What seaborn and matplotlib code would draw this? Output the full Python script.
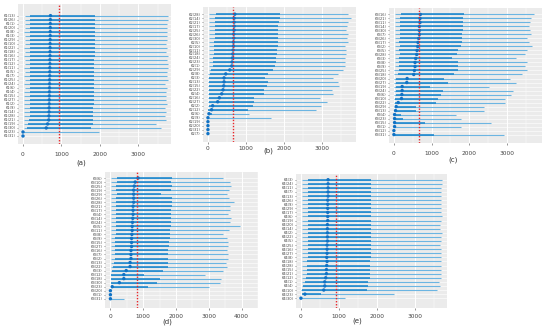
import numpy as np
import pandas as pd
import seaborn as sns
import matplotlib
matplotlib.use("Agg")
import matplotlib.pyplot as plt

# ---------------------------
# data: per panel, one row per label (top to bottom)
# min / lower / median / upper / max
# ---------------------------
a_labels = ["K1(13)", "K1(26)", "K1(1)", "K1(20)", "K1(8)", "K1(3)", "K1(29)", "K1(10)",
            "K1(22)", "K1(18)", "K1(16)", "K1(17)", "K1(12)", "K1(11)", "K1(5)", "K1(7)",
            "K1(25)", "K1(24)", "K1(6)", "K1(4)", "K1(15)", "K1(27)", "K1(2)", "K1(9)",
            "K1(14)", "K1(28)", "K1(21)", "K1(19)", "K1(30)", "K1(23)", "K1(31)"]
a_min = [45, 40, 42, 40, 38, 40, 41, 40, 39, 40, 38, 40, 40, 37, 40, 38,
         40, 36, 40, 35, 38, 34, 36, 33, 32, 30, 28, 22, 17, 0, 0]
a_q1 = [195, 190, 192, 190, 188, 190, 190, 188, 190, 186, 190, 188, 186, 190, 185, 188,
        185, 183, 185, 182, 184, 180, 182, 178, 176, 175, 157, 130, 105, 0, 0]
a_med = [715, 712, 710, 710, 708, 708, 706, 705, 704, 703, 702, 700, 700, 698, 697, 695,
         693, 692, 690, 688, 686, 684, 682, 680, 678, 675, 670, 640, 605, 0, 0]
a_q3 = [1880, 1875, 1872, 1870, 1870, 1868, 1865, 1866, 1862, 1860, 1860, 1858, 1855, 1856,
        1852, 1850, 1848, 1846, 1845, 1842, 1840, 1838, 1835, 1832, 1830, 1828, 1826, 1826,
        1765, 0, 0]
a_max = [3783, 3783, 3757, 3739, 3757, 3739, 3739, 3722, 3739, 3713, 3783, 3739, 3783, 3765,
         3739, 3739, 3783, 3696, 3739, 3713, 3722, 3722, 3739, 3696, 3713, 3696, 3713, 3450,
         3590, 1980, 0]

b_labels = ["K2(28)", "K2(14)", "K2(21)", "K2(17)", "K2(25)", "K2(26)", "K2(30)", "K2(5)",
            "K2(10)", "K2(11)", "K2(18)", "K2(24)", "K2(23)", "K2(1)", "K2(29)", "K2(8)",
            "K2(3)", "K2(13)", "K2(15)", "K2(22)", "K2(4)", "K2(16)", "K2(27)", "K2(2)",
            "K2(12)", "K2(6)", "K2(9)", "K2(19)", "K2(20)", "K2(31)", "K2(7)"]
b_min = [30, 28, 28, 27, 27, 27, 26, 25, 25, 24, 23, 22, 20, 18, 15, 12,
         10, 10, 8, 8, 6, 5, 5, 4, 2, 0, 0, 0, 0, 0, 0]
b_q1 = [204, 177, 177, 177, 177, 177, 177, 159, 159, 159, 150, 142, 135, 124, 71, 53,
        27, 27, 27, 27, 27, 27, 27, 27, 9, 0, 0, 0, 0, 0, 0]
b_med = [708, 690, 690, 690, 690, 681, 681, 673, 673, 664, 655, 646, 637, 628, 575, 469,
         425, 425, 416, 398, 363, 301, 257, 124, 97, 27, 0, 0, 0, 0, 0]
b_q3 = [1885, 1903, 1867, 1858, 1841, 1858, 1858, 1841, 1841, 1830, 1814, 1796, 1780, 1770,
        1708, 1575, 1504, 1575, 1549, 1469, 1487, 1204, 1221, 1177, 1044, 115, 0, 0, 0, 0, 0]
b_max = [3699, 3761, 3681, 3655, 3646, 3699, 3655, 3699, 3611, 3640, 3628, 3611, 3620, 3611,
         3566, 3434, 3283, 3416, 3451, 3257, 3301, 2947, 3124, 2991, 2858, 1071, 1664, 0, 0, 0, 0]

c_labels = ["K3(16)", "K3(21)", "K3(11)", "K3(14)", "K3(30)", "K3(7)", "K3(26)", "K3(17)",
            "K3(2)", "K3(5)", "K3(28)", "K3(3)", "K3(8)", "K3(9)", "K3(25)", "K3(18)",
            "K3(20)", "K3(27)", "K3(19)", "K3(24)", "K3(6)", "K3(10)", "K3(22)", "K3(29)",
            "K3(13)", "K3(4)", "K3(23)", "K3(15)", "K3(1)", "K3(12)", "K3(31)"]
c_min = [30, 28, 28, 26, 26, 25, 25, 24, 22, 20, 20, 18, 18, 16, 15, 14,
         12, 10, 10, 8, 8, 6, 5, 4, 3, 2, 2, 2, 1, 0, 0]
c_q1 = [193, 175, 175, 175, 160, 149, 149, 132, 149, 132, 149, 132, 132, 132, 132, 105,
        61, 44, 44, 44, 44, 35, 35, 18, 18, 9, 9, 9, 9, 0, 0]
c_med = [702, 693, 693, 675, 675, 675, 658, 640, 632, 614, 605, 579, 561, 561, 544, 526,
         351, 342, 219, 219, 211, 202, 114, 61, 44, 18, 18, 18, 18, 0, 0]
c_q3 = [1860, 1842, 1833, 1833, 1825, 1816, 1798, 1816, 1772, 1711, 1684, 1553, 1711, 1711,
        1711, 1596, 1333, 1447, 956, 1307, 1246, 1158, 1114, 588, 588, 193, 237, 833, 61, 0, 1053]
c_max = [3728, 3640, 3614, 3588, 3610, 3632, 3544, 3596, 3658, 3526, 3482, 3246, 3526, 3482,
         3526, 3395, 3070, 3246, 2518, 3149, 3114, 2939, 2956, 2404, 2404, 1658, 1789, 2588,
         1789, 0, 2912]

d_labels = ["K3(6)", "K3(10)", "K3(25)", "K3(19)", "K3(29)", "K3(26)", "K3(28)", "K3(21)",
            "K3(17)", "K3(4)", "K3(14)", "K3(24)", "K3(5)", "K3(11)", "K3(8)", "K3(9)",
            "K3(15)", "K3(27)", "K3(16)", "K3(7)", "K3(2)", "K3(13)", "K3(22)", "K3(3)",
            "K3(12)", "K3(18)", "K3(30)", "K3(23)", "K3(20)", "K3(1)", "K3(31)"]
d_min = [30, 30, 28, 28, 27, 27, 26, 26, 25, 25, 24, 24, 23, 22, 22, 21,
         20, 20, 18, 18, 17, 15, 14, 10, 8, 8, 6, 4, 0, 0, 0]
d_q1 = [209, 209, 182, 182, 209, 182, 182, 164, 164, 164, 164, 164, 182, 164, 164, 145,
        145, 145, 127, 127, 127, 100, 91, 55, 27, 27, 27, 27, 0, 0, 0]
d_med = [845, 755, 727, 709, 709, 709, 709, 691, 691, 691, 682, 673, 664, 664, 655, 645,
         645, 645, 627, 627, 627, 600, 600, 482, 409, 409, 273, 55, 0, 0, 0]
d_q3 = [1891, 1845, 1873, 1845, 1545, 1873, 1873, 1873, 1845, 1845, 1845, 1845, 1845, 1827,
        1827, 1818, 1800, 1782, 1755, 1755, 1755, 1755, 1755, 1618, 1027, 1527, 1418, 1145,
        0, 0, 0]
d_max = [3436, 3645, 3664, 3618, 3555, 3618, 3755, 3636, 3636, 3573, 3664, 3636, 3936, 3618,
         3436, 3545, 3600, 3591, 3545, 3573, 3600, 3527, 3545, 3436, 2873, 3364, 3327, 3000,
         0, 0, 418]

e_labels = ["K4(3)", "K4(24)", "K4(11)", "K4(7)", "K4(13)", "K4(26)", "K4(9)", "K4(29)",
            "K4(17)", "K4(6)", "K4(19)", "K4(20)", "K4(14)", "K4(2)", "K4(22)", "K4(5)",
            "K4(25)", "K4(16)", "K4(27)", "K4(8)", "K4(18)", "K4(28)", "K4(15)", "K4(21)",
            "K4(12)", "K4(1)", "K4(4)", "K4(10)", "K4(23)", "K4(30)"]
e_min = [35, 36, 35, 34, 35, 36, 35, 34, 35, 35, 34, 35, 33, 35, 34, 33,
         34, 33, 32, 33, 32, 31, 30, 30, 28, 25, 20, 10, 17, 0]
e_q1 = [191, 193, 190, 191, 192, 190, 191, 189, 191, 190, 188, 191, 189, 190, 188, 189,
        187, 188, 186, 187, 165, 165, 148, 148, 130, 104, 61, 17, 35, 0]
e_med = [713, 713, 713, 713, 713, 704, 704, 704, 704, 704, 704, 696, 696, 696, 696, 696,
         687, 687, 687, 678, 687, 678, 670, 670, 652, 626, 626, 600, 104, 0]
e_q3 = [1843, 1848, 1845, 1842, 1846, 1843, 1840, 1844, 1841, 1845, 1840, 1842, 1838, 1843,
        1840, 1841, 1838, 1840, 1836, 1838, 1826, 1826, 1826, 1826, 1817, 1774, 1774, 1730,
        539, 0]
e_max = [3696, 3713, 3678, 3678, 3687, 3678, 3670, 3687, 3670, 3713, 3670, 3661, 3652, 3696,
         3670, 3678, 3661, 3670, 3670, 3670, 3687, 3678, 3670, 3687, 3670, 3626, 3643, 3583,
         2435, 1148]

# overall mean (red dotted line)
means = {"a": 940, "b": 670, "c": 660, "d": 820, "e": 930}

# ---------------------------
# style
# ---------------------------
sns.set_theme(style="darkgrid", rc={
    "axes.facecolor": "#ebebeb",
    "grid.color": "white",
    "axes.edgecolor": "#ebebeb",
})
plt.rcParams["font.family"] = ["DejaVu Sans"]

LIGHT = "#6cb5e2"
DARK = "#1a85cc"
DOT = "#1172c4"

fig = plt.figure(figsize=(5.5, 3.27), dpi=100)
W, H = 550, 327


def add_ax(x0, x1, y0, y1):
    return fig.add_axes([x0 / W, 1 - y1 / H, (x1 - x0) / W, (y1 - y0) / H])


def draw_panel(ax, labels, mins, q1, med, q3, maxs, mean, xlim, xticks,
               pad_top, pad_bot, tick_pad):
    n = len(labels)
    df = pd.DataFrame({"label": labels, "row": np.arange(n), "min": mins,
                       "q1": q1, "med": med, "q3": q3, "max": maxs})
    ax.hlines(df["row"], df["min"], df["max"], color=LIGHT, lw=0.8, zorder=2)
    ax.hlines(df["row"], df["q1"], df["q3"], color=DARK, lw=1.15, zorder=3)
    sns.scatterplot(data=df, x="med", y="row", ax=ax, s=6, color=DOT,
                    edgecolor="none", linewidth=0, zorder=4, legend=False)
    ax.axvline(mean, color="#e8262a", lw=1.0, ls=(0, (1, 1.2)), zorder=5)
    ax.set_xlim(*xlim)
    ax.set_ylim(n - 1 + pad_bot, -pad_top)
    ax.set_yticks(df["row"])
    ax.set_yticklabels(labels)
    ax.set_xticks(xticks)
    ax.set_xticks([t + 500 for t in xticks], minor=True)
    ax.grid(True, which="major", axis="x", color="white", lw=0.7)
    ax.grid(True, which="minor", axis="x", color="white", lw=0.35)
    ax.grid(True, which="major", axis="y", color="white", lw=0.4)
    ax.set_xlabel("")
    ax.set_ylabel("")
    ax.tick_params(axis="y", labelsize=2.6, length=1, width=0.4, pad=1,
                   colors="#444444", left=True)
    ax.tick_params(axis="x", labelsize=4.2, length=1.5, width=0.4, pad=tick_pad,
                   colors="#444444", bottom=True)
    ax.tick_params(which="minor", length=0)
    for s in ax.spines.values():
        s.set_visible(False)


ax_a = add_ax(18, 171, 4, 144)
draw_panel(ax_a, a_labels, a_min, a_q1, a_med, a_q3, a_max, means["a"],
           (-130, 3850), [0, 1000, 2000, 3000], 2.9, 2.0, 4)
ax_b = add_ax(203, 356, 7, 142)
draw_panel(ax_b, b_labels, b_min, b_q1, b_med, b_q3, b_max, means["b"],
           (-130, 3900), [0, 1000, 2000, 3000], 1.8, 2.1, 1.5)
ax_c = add_ax(389, 542, 8, 143)
draw_panel(ax_c, c_labels, c_min, c_q1, c_med, c_q3, c_max, means["c"],
           (-130, 3930), [0, 1000, 2000, 3000], 1.6, 2.1, 4)
ax_d = add_ax(105, 258, 172, 308)
draw_panel(ax_d, d_labels, d_min, d_q1, d_med, d_q3, d_max, means["d"],
           (-165, 4055), [0, 1000, 2000, 3000, 4000], 1.5, 2.3, 2.5)
ax_e = add_ax(296, 447, 174, 308)
draw_panel(ax_e, e_labels, e_min, e_q1, e_med, e_q3, e_max, means["e"],
           (-130, 3840), [0, 1000, 2000, 3000], 1.4, 2.4, 2.5)

captions = [("(a)", 81, 163), ("(b)", 268, 151), ("(c)", 453, 160),
            ("(d)", 167, 322), ("(e)", 357, 321)]
for txt, x, y in captions:
    fig.text(x / W, 1 - y / H, txt, ha="center", va="center", fontsize=5,
             color="#333333")

fig.savefig("out.png", dpi=100)
